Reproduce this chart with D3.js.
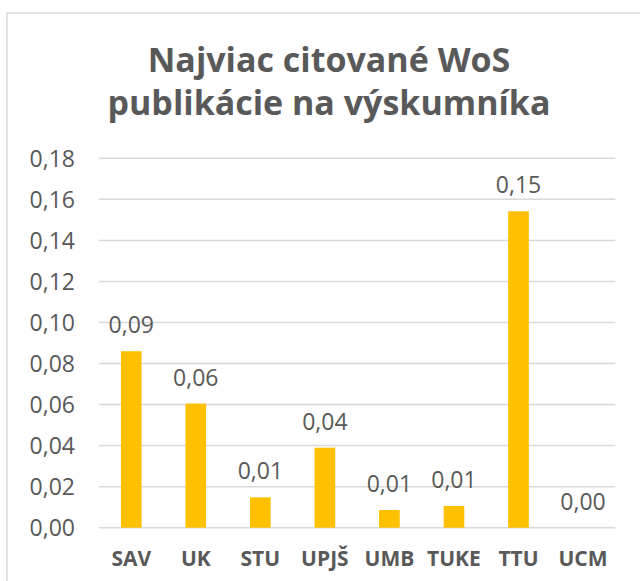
<!DOCTYPE html>
<html><head><meta charset="utf-8">
<script src="https://cdn.jsdelivr.net/npm/d3@7"></script>
<style>body{margin:0;background:#fff}svg{display:block}</style>
</head><body>
<svg id="c" width="640" height="581"></svg>
<script>
const categories = ["SAV","UK","STU","UPJŠ","UMB","TUKE","TTU","UCM"];
const values = [0.086, 0.0605, 0.0148, 0.039, 0.0086, 0.0106, 0.1542, 0.0];
const yTicks = [0,0.02,0.04,0.06,0.08,0.10,0.12,0.14,0.16,0.18];
const titleLines = ["Najviac citované WoS","publikácie na výskumníka"];

const fmt = v => d3.format(".2f")(v).replace(".", ",");
const svg = d3.select("#c");
const font = "'Open Sans', sans-serif";
const textColor = "#595959";

svg.append("rect").attr("x",7).attr("y",13).attr("width",700).attr("height",700)
  .attr("fill","#fff").attr("stroke","#d9d9d9").attr("stroke-width",1.5);

const x = d3.scaleBand().domain(categories).range([99,615.3]).paddingInner(0.68).paddingOuter(0.34);
const y = d3.scaleLinear().domain([0,0.18]).range([527.7,158.3]);

// gridlines
svg.append("g").selectAll("line").data(yTicks).join("line")
  .attr("x1",99).attr("x2",615.3).attr("y1",d=>y(d)).attr("y2",d=>y(d))
  .attr("stroke","#d9d9d9").attr("stroke-width",1.5);

// y axis labels
const yAxis = d3.axisLeft(y).tickValues(yTicks).tickFormat(fmt).tickSize(0).tickPadding(0);
const ya = svg.append("g").attr("transform","translate(75,0)").call(yAxis);
ya.select(".domain").remove();
ya.selectAll("text").attr("font-family",font).attr("font-size",23).attr("fill",textColor).attr("dy","0.35em");

// bars
svg.append("g").selectAll("rect").data(values).join("rect")
  .attr("x",(d,i)=>x(categories[i])).attr("width",x.bandwidth())
  .attr("y",d=>y(d)).attr("height",d=>y(0)-y(d)).attr("fill","#FFC000");

// data labels
svg.append("g").selectAll("text").data(values).join("text")
  .attr("x",(d,i)=>x(categories[i])+x.bandwidth()/2).attr("y",d=>y(d)-18)
  .attr("text-anchor","middle").attr("font-family",font).attr("font-size",23).attr("fill",textColor)
  .text(d=>fmt(d));

// x axis labels
const xAxis = d3.axisBottom(x).tickSize(0).tickPadding(0);
const xa = svg.append("g").attr("transform","translate(0,566)").call(xAxis);
xa.select(".domain").remove();
xa.selectAll("text").attr("font-family",font).attr("font-size",21).attr("font-weight","bold")
  .attr("fill",textColor).attr("dy",0);

// title
svg.append("g").selectAll("text").data(titleLines).join("text")
  .attr("x",329).attr("y",(d,i)=>72+i*43).attr("text-anchor","middle")
  .attr("font-family",font).attr("font-size",34).attr("font-weight","bold").attr("fill",textColor)
  .text(d=>d);
</script>
</body></html>
